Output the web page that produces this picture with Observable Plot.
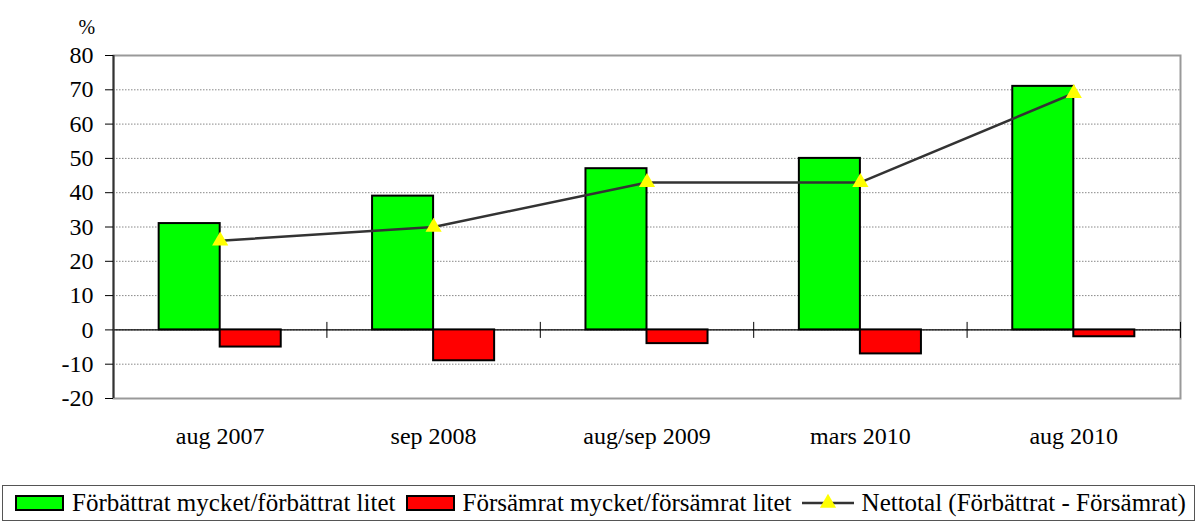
<!DOCTYPE html>
<html>
<head>
<meta charset="utf-8">
<script src="https://cdn.jsdelivr.net/npm/d3@7"></script>
<script src="https://cdn.jsdelivr.net/npm/@observablehq/plot@0.6"></script>
<style>
  html, body { margin: 0; padding: 0; background: white; }
  body { width: 1200px; height: 522px; overflow: hidden; font-family: "Liberation Serif", "Times New Roman", serif; }
  #chart svg { display: block; }
  .legend { position: absolute; left: 2px; top: 485px; width: 1193px; height: 36px; border: 1px solid #555; box-sizing: border-box;
            display: flex; align-items: center; font-size: 25px; color: black; white-space: nowrap; font-family: "Liberation Serif", serif; }
  .item { display: flex; align-items: center; }
  .sw { width: 45px; height: 12px; border: 2px solid black; margin-right: 8px; }
  .lsym { margin-right: 8px; display: block; }
</style>
</head>
<body>
<div id="chart"></div>
<div class="legend" id="legend"></div>
<script>
const categories = ["aug 2007", "sep 2008", "aug/sep 2009", "mars 2010", "aug 2010"];
const improved = [31, 39, 47, 50, 71];
const worsened = [-5, -9, -4, -7, -2];
const netTotal = [26, 30, 43, 43, 69];
const yTicks = [-20, -10, 0, 10, 20, 30, 40, 50, 60, 70, 80];
const unitLabel = "%";
const seriesNames = ["Förbättrat mycket/förbättrat litet", "Försämrat mycket/försämrat litet", "Nettotal (Förbättrat - Försämrat)"];
const colors = ["#00ff00", "#ff0000", "#ffff00"];

const rows = categories.map((c, i) => ({i, c, improved: improved[i], worsened: worsened[i], net: netTotal[i]}));
const bw = 0.286; // bar width as fraction of a category
const boundaries = d3.range(1, categories.length + 1);

const vbar = {
  draw(context, size) {
    const h = Math.sqrt(size / Math.PI);
    context.moveTo(0, -h);
    context.lineTo(0, h);
  }
};

const serif = "'Liberation Serif', 'Times New Roman', serif";

const chart = Plot.plot({
  width: 1200,
  height: 482,
  marginTop: 55,
  marginBottom: 84,
  marginLeft: 113,
  marginRight: 20,
  style: {fontFamily: serif, fontSize: "24px", color: "black", background: "white"},
  x: {domain: [0, categories.length]},
  y: {domain: [-20, 80]},
  marks: [
    Plot.gridY(yTicks, {stroke: "#888", strokeOpacity: 1, strokeDasharray: "1.5,1.5"}),
    Plot.frame({stroke: "#999", strokeWidth: 2}),
    Plot.ruleY([0], {stroke: "black", strokeWidth: 1.2}),
    Plot.rectY(rows, {x1: d => d.i + 0.5 - bw, x2: d => d.i + 0.5, y1: 0, y2: "improved", fill: colors[0], stroke: "black", strokeWidth: 2}),
    Plot.rectY(rows, {x1: d => d.i + 0.5, x2: d => d.i + 0.5 + bw, y1: 0, y2: "worsened", fill: colors[1], stroke: "black", strokeWidth: 2}),
    Plot.dot(boundaries, {x: d => d, y: () => 0, symbol: vbar, r: 8, stroke: "black", strokeWidth: 1}),
    Plot.line(rows, {x: d => d.i + 0.5, y: "net", stroke: "#333", strokeWidth: 2.5}),
    Plot.dot(rows, {x: d => d.i + 0.5, y: "net", symbol: "triangle", fill: colors[2], r: 6}),
    Plot.ruleX([0], {stroke: "#333", strokeWidth: 2}),
    Plot.axisY(yTicks, {tickSize: 8, tickPadding: 12, tickFormat: d => String(d), label: null, fontSize: 24, fontFamily: serif}),
    Plot.text([unitLabel], {frameAnchor: "top-left", dx: -35, dy: -36, textAnchor: "start", fontSize: 20, fontFamily: serif}),
    Plot.axisX(categories.map((c, i) => i + 0.5), {tickSize: 0, tickPadding: 28, tickFormat: d => categories[Math.floor(d)], label: null, fontSize: 24, fontFamily: serif})
  ]
});
document.getElementById("chart").append(chart);

// legend
const legend = document.getElementById("legend");
seriesNames.forEach((name, k) => {
  const item = document.createElement("div");
  item.className = "item";
  item.style.marginLeft = (k === 0 ? 12 : 10) + "px";
  if (k < 2) {
    const sw = document.createElement("div");
    sw.className = "sw";
    sw.style.background = colors[k];
    item.append(sw);
  } else {
    const ns = "http://www.w3.org/2000/svg";
    const s = document.createElementNS(ns, "svg");
    s.setAttribute("width", 52); s.setAttribute("height", 20); s.setAttribute("class", "lsym");
    const l = document.createElementNS(ns, "line");
    l.setAttribute("x1", 0); l.setAttribute("x2", 52); l.setAttribute("y1", 10); l.setAttribute("y2", 10);
    l.setAttribute("stroke", "#333"); l.setAttribute("stroke-width", 2.5);
    const t = document.createElementNS(ns, "path");
    t.setAttribute("d", d3.symbol(d3.symbolTriangle, Math.PI * 6 * 6)());
    t.setAttribute("transform", "translate(26,10)");
    t.setAttribute("fill", colors[2]);
    s.append(l, t);
    item.append(s);
  }
  const span = document.createElement("span");
  span.textContent = name;
  item.append(span);
  legend.append(item);
});
</script>
</body>
</html>
